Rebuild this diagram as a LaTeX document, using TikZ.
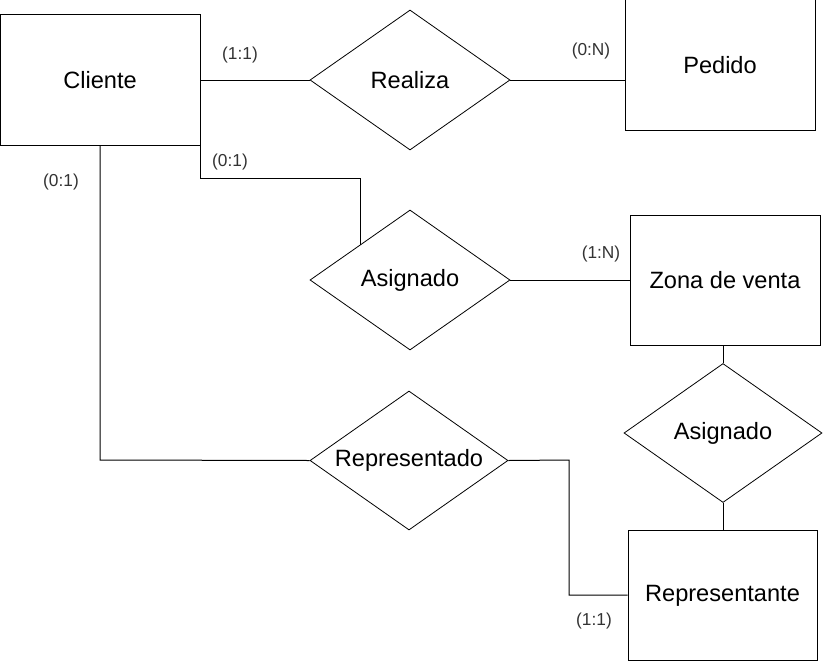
\documentclass[tikz,border=0pt]{standalone}
\usepackage{fontspec}
\setmainfont{Liberation Sans}
\usetikzlibrary{shapes.geometric}
\definecolor{lbl}{HTML}{333333}
\begin{document}
\begin{tikzpicture}[x=1pt,y=-1pt,
  ent/.style={draw,line width=1pt,minimum width=#1,minimum height=130pt,inner sep=0pt,font=\fontsize{23.6}{26}\selectfont},
  ent/.default=190pt,
  rel/.style={draw,line width=0.8pt,diamond,aspect=1.4286,minimum width=200pt,minimum height=140pt,inner sep=0pt,font=\fontsize{23.6}{26}\selectfont},
  card/.style={text=lbl,font=\fontsize{17.3}{20}\selectfont,inner sep=0pt},
  conn/.style={line width=1pt}]
\useasboundingbox (0,0) rectangle (826,661);
% entities
\node[ent=200pt] (cli) at (100,80) {Cliente};
\node[ent] (ped) at (720,65) {Pedido};
\node[ent] (zona) at (725,280) {Zona de venta};
\node[ent=189pt] (rep) at (722.5,595.5) {Representante};
% relationships
\node[rel] (realiza) at (410,80) {Realiza};
\node[rel] (asig) at (410,280) {Asignado};
\node[rel,minimum width=198pt,minimum height=139pt] (asig2) at (723,433) {Asignado};
\node[rel,minimum width=198pt,minimum height=139pt] (repdo) at (409,460.5) {Representado};
% coordinates
\coordinate (c1) at (200,178);
\coordinate (c2) at (360,178);
\coordinate (c3) at (360,245);
\coordinate (c4) at (100,460);
\coordinate (c5) at (569,460);
\coordinate (c6) at (569,595);
\coordinate (cb) at (100,145);
\coordinate (cr) at (200,145);
% connectors
\draw[conn] (cli.east |- realiza.west) -- (realiza.west);
\draw[conn] (realiza.east) -- (ped.west |- realiza.east);
\draw[conn] (cr) -- (c1) -- (c2) -- (c3);
\draw[conn] (asig.east) -- (zona.west);
\draw[conn] (zona.south -| asig2.north) -- (asig2.north);
\draw[conn] (asig2.south) -- (rep.north -| asig2.south);
\draw[conn] (cb) -- (c4) -- (repdo.west);
\draw[conn] (repdo.east) -- (c5) -- (c6) -- (rep.west |- c6);
% cardinalities
\node[card] (k1) at (240,55) {(1:1)};
\node[card] (k2) at (591,51) {(0:N)};
\node[card] (k3) at (230,162) {(0:1)};
\node[card] (k4) at (61,182) {(0:1)};
\node[card] (k5) at (601,254) {(1:N)};
\node[card] (k6) at (594,621) {(1:1)};
\end{tikzpicture}
\end{document}
